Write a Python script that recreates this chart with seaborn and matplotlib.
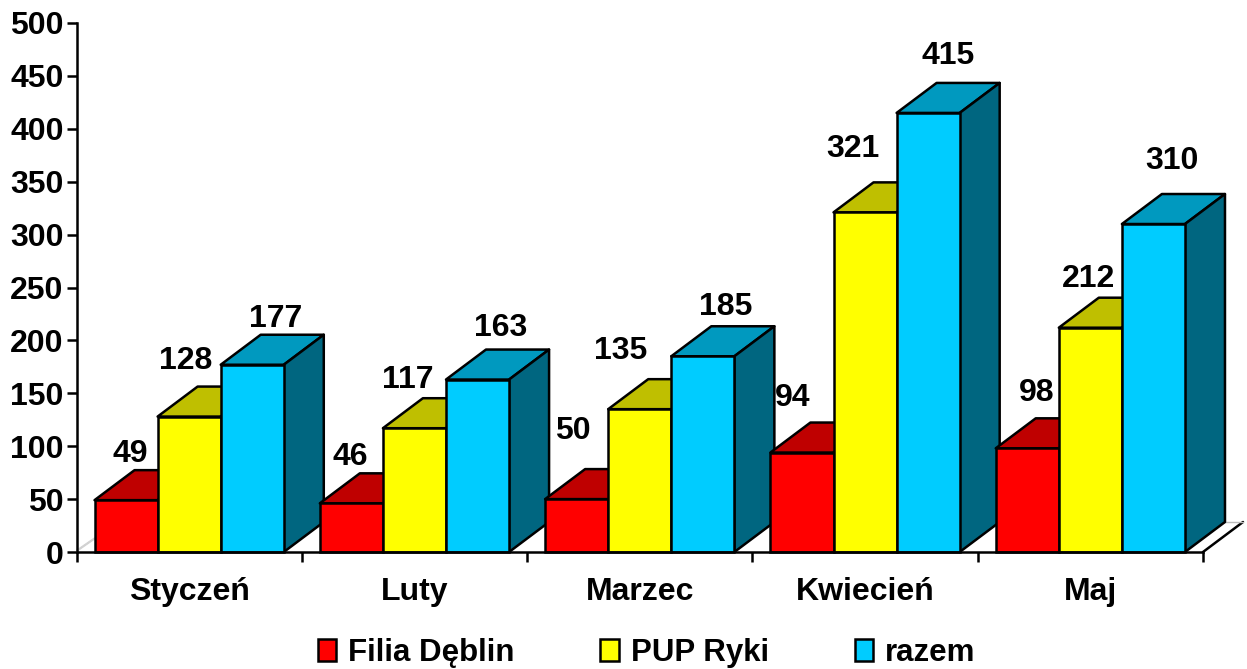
import matplotlib
matplotlib.use("Agg")
import matplotlib.pyplot as plt
import numpy as np
import pandas as pd
import seaborn as sns
from matplotlib.patches import Polygon

months = ["Styczeń", "Luty", "Marzec", "Kwiecień", "Maj"]
series = ["Filia Dęblin", "PUP Ryki", "razem"]
filia = [49, 46, 50, 94, 98]
pup = [128, 117, 135, 321, 212]
razem = [177, 163, 185, 415, 310]

front_colors = ["#FF0000", "#FFFF00", "#00CCFF"]
top_colors = ["#BF0000", "#BFBF00", "#0099BF"]
side_colors = ["#800000", "#808000", "#006680"]

# label shift from the top centre of each bar, in pixels
label_shift = [
    [(4, 46), (-3, 56), (23, 46)],
    [(-1, 46), (-7, 48), (23, 52)],
    [(-4, 68), (-19, 58), (23, 49)],
    [(-9, 55), (-12, 63), (20, 57)],
    [(9, 55), (-2, 49), (19, 63)],
]

W, H = 1247, 669
DEPTH_X, DEPTH_Y = 40, 30
EDGE = 1.8

df = pd.DataFrame({
    "month": months * 3,
    "series": np.repeat(series, 5),
    "value": filia + pup + razem,
})

sns.set_style("white")
plt.rcParams["font.family"] = ["Liberation Sans", "DejaVu Sans"]
plt.rcParams["font.weight"] = "bold"

fig = plt.figure(figsize=(W / 100, H / 100), dpi=100)
ax = fig.add_axes([76.5 / W, 1 - 552 / H, (1203 - 76.5) / W, (552 - 23) / H])

sns.barplot(
    data=df,
    x="month",
    y="value",
    hue="series",
    order=months,
    hue_order=series,
    palette=front_colors,
    saturation=1,
    width=0.84,
    gap=0,
    edgecolor="black",
    linewidth=EDGE,
    ax=ax,
)

ax.set_xlim(-0.5, 4.5)
ax.set_ylim(0, 500)
dx = DEPTH_X / (1203 - 76.5) * 5
dy = DEPTH_Y / (552 - 23) * 500

# fake 3d: top and side faces are built from the real bars
for s, container in enumerate(ax.containers):
    for m, bar in enumerate(container):
        x0, w, h = bar.get_x(), bar.get_width(), bar.get_height()
        x1 = x0 + w
        bar.set_zorder(3 + m * 2)
        bar.set_clip_on(False)
        top = Polygon([(x0, h), (x1, h), (x1 + dx, h + dy), (x0 + dx, h + dy)],
                      closed=True, fc=top_colors[s], ec="black", lw=EDGE,
                      joinstyle="round", clip_on=False, zorder=2 + m * 2)
        side = Polygon([(x1, 0), (x1, h), (x1 + dx, h + dy), (x1 + dx, dy)],
                       closed=True, fc=side_colors[s], ec="black", lw=EDGE,
                       joinstyle="round", clip_on=False, zorder=2 + m * 2)
        ax.add_patch(top)
        ax.add_patch(side)
        sx, sy = label_shift[m][s]
        ax.annotate(str(int(h)), (x0 + w / 2, h), xytext=(sx * 0.72, sy * 0.72),
                    textcoords="offset points", ha="center", va="center",
                    fontsize=23, fontweight="bold", color="black", zorder=20)

# floor edges
ax.plot([4.5, 4.5 + dx], [0, dy], color="black", lw=EDGE, clip_on=False, zorder=1)
ax.plot([4.5 - 0.08, 4.5 + dx], [dy, dy], color="#BBBBBB", lw=1, clip_on=False, zorder=1)
for shift in (-0.012, 0.0, 0.012):
    ax.plot([-0.5, -0.5 + dx * 0.45], [shift * 60 + 1, dy * 0.45 + shift * 60],
            color="#D0D0D0", lw=0.7, clip_on=False, zorder=1)

sns.despine(ax=ax)
for side in ("left", "bottom"):
    ax.spines[side].set_linewidth(1.8)
    ax.spines[side].set_color("black")
    ax.spines[side].set_zorder(15)

ax.set_xlabel("")
ax.set_ylabel("")
ax.set_yticks(range(0, 501, 50))
ax.set_xticks(np.arange(-0.5, 5, 1), minor=True)
ax.tick_params(axis="y", which="major", left=True, length=7.2, width=1.8, pad=2,
               labelsize=23, labelcolor="black", color="black")
ax.tick_params(axis="x", which="major", length=0, pad=18, labelsize=23, labelcolor="black")
ax.tick_params(axis="x", which="minor", bottom=True, length=7.2, width=1.8, color="black")
for label in ax.get_xticklabels() + ax.get_yticklabels():
    label.set_fontweight("bold")

handles, labels = ax.get_legend_handles_labels()
ax.legend(
    handles,
    labels,
    loc="center",
    bbox_to_anchor=(646.5 / W, 1 - 653 / H),
    bbox_transform=fig.transFigure,
    ncol=3,
    frameon=False,
    fontsize=22.5,
    labelcolor="black",
    handlelength=0.6,
    handleheight=0.68,
    handletextpad=0.37,
    columnspacing=2.75,
    borderpad=0,
    borderaxespad=0,
)

fig.savefig("out.png", dpi=100)
